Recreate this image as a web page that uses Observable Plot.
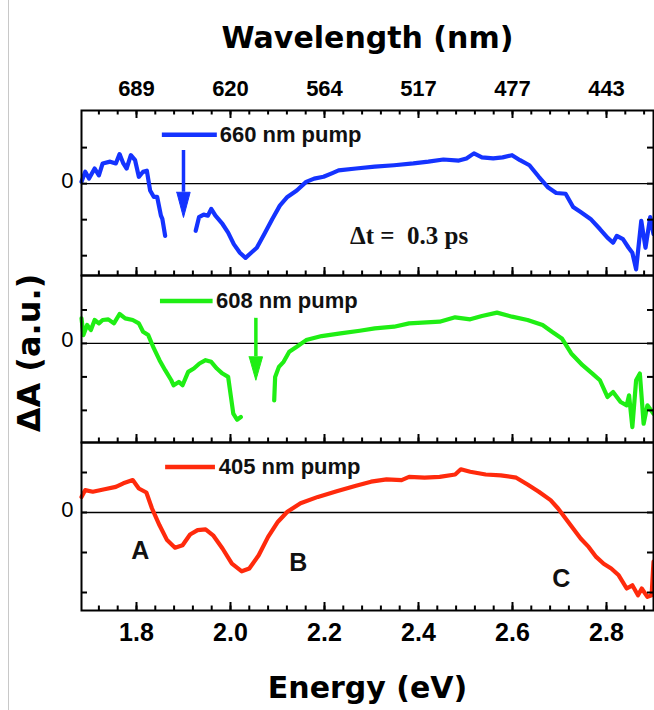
<!DOCTYPE html>
<html>
<head>
<meta charset="utf-8">
<script src="https://cdn.jsdelivr.net/npm/d3@7"></script>
<script src="https://cdn.jsdelivr.net/npm/@observablehq/plot@0.6"></script>
<style>
  html, body { margin: 0; padding: 0; background: #fff; }
  #chart { position: relative; width: 654px; height: 710px; overflow: hidden; background: #fff; }
  #chart svg { display: block; }
  #edge { position: absolute; left: 8px; top: 0; width: 1px; height: 710px; background: #c8c8c8; z-index: 5; }
</style>
</head>
<body>
<div id="chart"></div>
<script>
// ---------- axis ticks & labels ----------
const energyTicks = [1.8, 2.0, 2.2, 2.4, 2.6, 2.8];
const energyLabels = ["1.8", "2.0", "2.2", "2.4", "2.6", "2.8"];
const wavelengthLabels = ["689", "620", "564", "517", "477", "443"];
const minorTicks = d3.range(1.72, 2.9, 0.04);
const yTicks = [1, 0, -1, -2];

// ---------- series: 660 nm pump (blue) ----------
const blueE = [1.683,1.691,1.699,1.711,1.720,1.728,1.744,1.756,1.764,1.772,1.779,1.788,1.797,1.805,1.814,1.822,1.829,1.837,1.844,1.852,1.855,1.861,
  1.893,
  1.926,1.933,1.943,1.952,1.959,1.968,1.983,1.995,2.007,2.020,2.032,2.044,2.056,2.072,2.089,2.105,2.121,2.141,2.161,2.178,
  2.198,2.218,2.230,2.267,2.307,2.348,2.389,2.421,2.453,2.486,2.502,2.518,2.535,2.559,2.579,2.599,2.616,2.636,2.656,2.676,
  2.693,2.713,2.729,2.745,2.766,2.786,2.802,2.814,2.822,2.835,2.847,2.855,2.863,2.874,2.883,2.893,2.900];
const blueV = [0.05,0.33,0.14,0.42,0.23,0.56,0.61,0.56,0.82,0.56,0.42,0.79,0.65,0.19,0.33,0.36,-0.19,-0.37,-0.37,-0.89,-0.98,-1.45,
  null,
  -1.31,-0.93,-0.86,-0.89,-0.70,-0.89,-1.12,-1.36,-1.68,-1.92,-2.06,-1.92,-1.78,-1.40,-0.98,-0.61,-0.37,-0.19,0.05,0.14,
  0.19,0.30,0.37,0.42,0.47,0.51,0.56,0.61,0.67,0.64,0.70,0.84,0.73,0.70,0.73,0.79,0.65,0.51,0.19,-0.11,
  -0.26,-0.28,-0.65,-0.79,-0.98,-1.26,-1.50,-1.64,-1.45,-1.54,-1.78,-1.92,-2.38,-1.03,-1.78,-0.93,-1.40];

// ---------- series: 608 nm pump (green) ----------
const greenE = [1.683,1.687,1.695,1.703,1.711,1.720,1.728,1.740,1.752,1.764,1.776,1.792,1.805,1.814,1.825,1.837,1.849,1.861,1.874,1.879,
  1.890,1.898,1.910,1.922,1.934,1.947,1.959,1.971,1.983,1.995,2.001,2.006,2.014,2.022,
  2.060,
  2.093,2.095,2.103,2.113,2.125,2.141,2.161,2.194,2.234,2.275,2.307,2.348,2.380,2.445,2.478,2.510,2.535,2.567,2.599,2.632,
  2.664,2.684,2.705,2.725,2.749,2.770,2.786,2.802,2.814,2.830,2.843,2.848,2.855,2.863,2.871,2.879,2.887,2.900];
const greenV = [0.75,0.25,0.55,0.40,0.70,0.60,0.70,0.72,0.60,0.88,0.75,0.70,0.60,0.35,0.25,-0.15,-0.50,-0.80,-1.10,-1.25,
  -1.15,-1.25,-0.85,-0.75,-0.60,-0.50,-0.55,-0.75,-0.90,-1.00,-1.60,-2.10,-2.28,-2.20,
  null,
  -1.70,-1.00,-0.70,-0.55,-0.25,-0.10,0.10,0.22,0.30,0.38,0.45,0.50,0.60,0.65,0.78,0.72,0.82,0.92,0.80,0.70,
  0.55,0.35,0.15,-0.30,-0.65,-0.90,-1.10,-1.60,-1.45,-1.75,-1.85,-1.55,-2.50,-1.10,-0.90,-2.40,-1.85,-2.10];

// ---------- series: 405 nm pump (red) ----------
const redE = [1.683,1.691,1.707,1.732,1.756,1.772,1.792,1.805,1.821,1.833,1.849,1.865,1.882,1.898,1.914,1.930,1.947,1.963,1.983,2.003,
  2.024,2.040,2.060,2.080,2.101,2.121,2.149,2.186,2.226,2.267,2.299,2.332,2.364,2.380,2.413,2.445,2.478,2.490,2.510,2.543,
  2.575,2.608,2.632,2.656,2.681,2.697,2.713,2.729,2.745,2.762,2.778,2.794,2.810,2.826,2.843,2.855,2.867,2.875,2.887,2.896,2.900];
const redV = [0.39,0.56,0.52,0.58,0.64,0.73,0.81,0.60,0.50,0.10,-0.32,-0.69,-0.88,-0.82,-0.55,-0.44,-0.42,-0.57,-0.90,-1.28,
  -1.47,-1.40,-1.07,-0.61,-0.23,0.02,0.23,0.39,0.53,0.67,0.77,0.83,0.81,0.89,0.87,0.89,0.95,1.08,1.02,0.95,
  0.93,0.87,0.70,0.52,0.31,0.10,-0.15,-0.40,-0.65,-0.86,-1.11,-1.28,-1.40,-1.57,-1.90,-1.82,-2.07,-1.90,-2.11,-2.07,-1.23];

// ---------- annotations ----------
const legendLabels = ["660 nm pump", "608 nm pump", "405 nm pump"];
const legendE1 = [1.855, 1.851, 1.862];
const legendE2 = [1.972, 1.963, 1.968];
const legendTextE = [1.977, 1.969, 1.975];
const legendV = [1.36, 1.27, 1.14];
const arrowE = [1.900, 2.054];
const arrowTop = [0.92, 0.75];
const arrowHeadStart = [-0.24, -0.40];
const arrowTip = [-0.94, -1.10];
const delayLabel = "Δt =\u00a0 0.3 ps";
const delayE = 2.380, delayV = -1.44;
const bandLabels = ["A", "B", "C"];
const bandE = [1.808, 2.144, 2.704];
const bandV = [-0.97, -1.25, -1.66];

const colors = ["#1433ff", "#1fee14", "#ff2a0c"];

const W = 654, ML = 81, MR = 1;
const frameW = W - ML - MR;

const toRows = (E, V) => E.map((e, i) => ({e, v: V[i]}));
const fmtFrom = (labels) => (d) => labels[energyTicks.findIndex(t => Math.abs(t - d) < 1e-9)] ?? "";

// inward frame ticks built from rules trimmed with insets
function frameTicks(frameH, top) {
  const m = [
    Plot.ruleX(minorTicks, {x: d => d, insetTop: frameH - 4.5, stroke: "black", strokeWidth: 2}),
    Plot.ruleX(energyTicks, {x: d => d, insetTop: frameH - 8, stroke: "black", strokeWidth: 2}),
    Plot.ruleY(yTicks, {y: d => d, insetRight: frameW - 6, stroke: "black", strokeWidth: 2}),
    Plot.ruleY(yTicks, {y: d => d, insetLeft: frameW - 6, stroke: "black", strokeWidth: 2})
  ];
  if (top) {
    m.push(
      Plot.ruleX(minorTicks, {x: d => d, insetBottom: frameH - 4.5, stroke: "black", strokeWidth: 2}),
      Plot.ruleX(energyTicks, {x: d => d, insetBottom: frameH - 8, stroke: "black", strokeWidth: 2})
    );
  }
  return m;
}

function panel(k, {E, V, height, marginTop = 0, marginBottom = 0, yDomain, top = false, extra = []}) {
  const color = colors[k];
  const frameH = height - marginTop - marginBottom;
  const marks = [
    Plot.ruleY([0], {stroke: "black", strokeWidth: 1.3}),
    Plot.line(toRows(E, V), {x: "e", y: "v", stroke: color, strokeWidth: 4.2, strokeLinejoin: "round", strokeLinecap: "round"}),
    // legend
    Plot.ruleY([{v: legendV[k], e1: legendE1[k], e2: legendE2[k]}], {y: "v", x1: "e1", x2: "e2", stroke: color, strokeWidth: 4.5}),
    Plot.text([{v: legendV[k], e: legendTextE[k], t: legendLabels[k]}], {x: "e", y: "v", text: "t", textAnchor: "start", fontSize: 22, fontWeight: "bold", fill: "#111"}),
    ...extra,
    Plot.frame({stroke: "black", strokeWidth: 2}),
    ...frameTicks(frameH, top),
    Plot.axisY([0], {anchor: "left", tickSize: 0, tickPadding: 8, dy: -3, fontSize: 22, tickFormat: () => "0", label: null})
  ];
  return Plot.plot({
    width: W, height, marginTop, marginBottom, marginLeft: ML, marginRight: MR,
    style: {fontFamily: "'Liberation Sans', Arial, sans-serif", background: "transparent", color: "black", overflow: "visible"},
    x: {domain: [1.683, 2.9], label: null, axis: null},
    y: {domain: yDomain, label: null},
    marks
  });
}

function arrowMarks(k, color) {
  const hw = 0.0142;
  const tri = [
    {e: arrowE[k] - hw, v: arrowHeadStart[k]},
    {e: arrowE[k] + hw, v: arrowHeadStart[k]},
    {e: arrowE[k], v: arrowTip[k]},
    {e: arrowE[k] - hw, v: arrowHeadStart[k]}
  ];
  return [
    Plot.ruleX([{e: arrowE[k], a: arrowTop[k], b: arrowHeadStart[k]}], {x: "e", y1: "a", y2: "b", stroke: color, strokeWidth: 3.5}),
    Plot.line(tri, {x: "e", y: "v", fill: color, stroke: color, strokeWidth: 1})
  ];
}

const p1 = panel(0, {
  E: blueE, V: blueV, height: 275, marginTop: 110, yDomain: [-2.55, 2.03], top: true,
  extra: [
    ...arrowMarks(0, colors[0]),
    Plot.text([delayLabel], {x: () => delayE, y: () => delayV, text: d => d, fontFamily: "'Liberation Serif', 'Times New Roman', serif", fontWeight: "bold", fontSize: 25, fill: "#111"}),
    Plot.axisX(energyTicks, {anchor: "top", tickSize: 0, tickPadding: 15, tickFormat: fmtFrom(wavelengthLabels), fontSize: 22, fontWeight: "bold", label: null}),
    Plot.text(["Wavelength (nm)"], {frameAnchor: "top", dy: -63, lineAnchor: "bottom", fontSize: 30, fontWeight: "bold", fontFamily: "'DejaVu Sans', sans-serif"})
  ]
});

const p2 = panel(1, {
  E: greenE, V: greenV, height: 167, yDomain: [-2.96, 2.03],
  extra: [
    ...arrowMarks(1, colors[1]),
    Plot.text(["ΔA (a.u.)"], {frameAnchor: "left", dx: -42, dy: -6, rotate: -90, lineAnchor: "bottom", textAnchor: "middle", fontSize: 32, fontWeight: "bold", fontFamily: "'DejaVu Sans', sans-serif"})
  ]
});

const p3 = panel(2, {
  E: redE, V: redV, height: 268, marginBottom: 100, yDomain: [-2.45, 1.75],
  extra: [
    Plot.text(bandLabels.map((t, i) => ({t, e: bandE[i], v: bandV[i]})), {x: "e", y: "v", text: "t", fontSize: 25, fontWeight: "bold", fill: "#111"}),
    Plot.axisX(energyTicks, {anchor: "bottom", tickSize: 0, tickPadding: 13, tickFormat: fmtFrom(energyLabels), fontSize: 25, fontWeight: "bold", label: null}),
    Plot.text(["Energy (eV)"], {frameAnchor: "bottom", dy: 87, lineAnchor: "bottom", fontSize: 30, fontWeight: "bold", fontFamily: "'DejaVu Sans', sans-serif"})
  ]
});

const chart = document.getElementById("chart");
chart.append(p1, p2, p3);
const edge = document.createElement("div");
edge.id = "edge";
chart.append(edge);
</script>
</body>
</html>
